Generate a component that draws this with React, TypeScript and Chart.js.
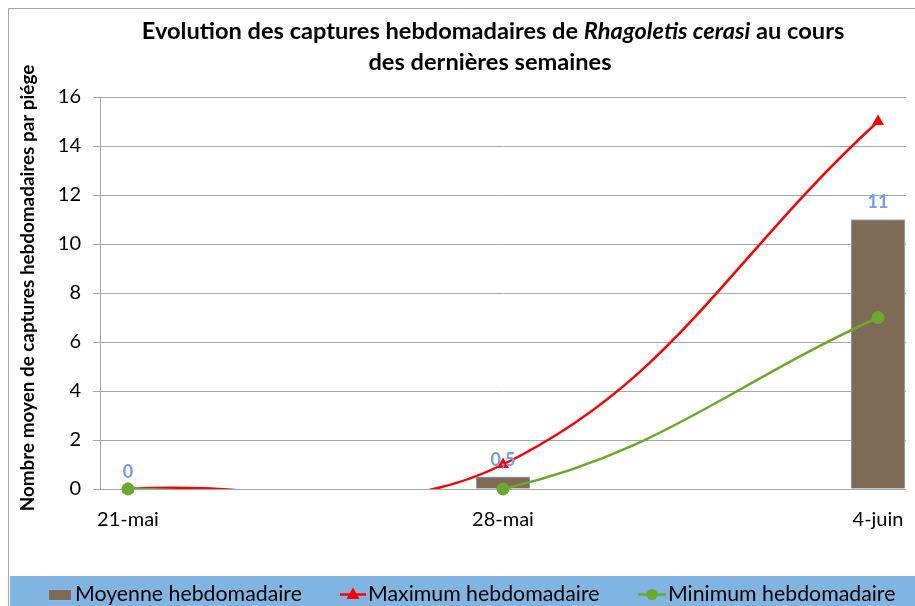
import React, { useEffect, useRef } from 'react';
import { Chart, registerables } from 'chart.js';

Chart.register(...registerables);

// ---- data ----
const categories = ['21-mai', '28-mai', '4-juin'];
const dayOffsets = [0, 7, 14];
const moyenne = [0, 0.5, 11];
const maximum = [0, 1, 15];
const minimum = [0, 0, 7];
const barLabels = ['0', '0,5', '11'];
const seriesNames = ['Moyenne hebdomadaire', 'Maximum hebdomadaire', 'Minimum hebdomadaire'];
const titleLine1 = [
  { text: 'Evolution des captures hebdomadaires de ', italic: false },
  { text: 'Rhagoletis cerasi', italic: true },
  { text: ' au cours', italic: false },
];
const titleLine2 = 'des dernières semaines';
const yAxisTitle = 'Nombre moyen de captures hebdomadaires par piége';

// ---- styles ----
const FONT = 'Lato, "Open Sans", sans-serif';
const BROWN = '#7f6a56';
const BAR_BORDER = '#8db4e3';
const RED = '#ff0000';
const GREEN = '#6aaa2a';
const LABEL_BLUE = '#6d9eeb';
const GRID = '#a6a6a6';
const BAND = '#80b5e1';

function fitSize(ctx: CanvasRenderingContext2D, text: string, weight: string, style: string, target: number) {
  ctx.font = `${style} ${weight} 100px ${FONT}`;
  const w = ctx.measureText(text).width;
  return (100 * target) / w;
}

const decorPlugin = {
  id: 'decor',
  beforeDraw(chart: any) {
    const ctx = chart.ctx as CanvasRenderingContext2D;
    ctx.save();
    ctx.fillStyle = '#ffffff';
    ctx.fillRect(0, 0, chart.width, chart.height);
    ctx.strokeStyle = GRID;
    ctx.lineWidth = 1;
    ctx.beginPath();
    ctx.moveTo(8.5, chart.height);
    ctx.lineTo(8.5, 8.5);
    ctx.lineTo(chart.width, 8.5);
    ctx.stroke();
    ctx.fillStyle = BAND;
    ctx.fillRect(10, 576, chart.width - 10, chart.height - 576);
    ctx.restore();
  },
  afterDraw(chart: any) {
    const ctx = chart.ctx as CanvasRenderingContext2D;
    ctx.save();
    ctx.fillStyle = '#000';
    ctx.textBaseline = 'middle';

    // title
    const full1 = titleLine1.map((s) => s.text).join('');
    const ts = fitSize(ctx, full1, 'bold', 'normal', 713);
    const segW = titleLine1.map((s) => {
      ctx.font = `${s.italic ? 'italic' : 'normal'} bold ${ts}px ${FONT}`;
      return ctx.measureText(s.text).width;
    });
    const tot = segW.reduce((a, b) => a + b, 0);
    let x = 493 - tot / 2;
    ctx.textAlign = 'left';
    titleLine1.forEach((s, i) => {
      ctx.font = `${s.italic ? 'italic' : 'normal'} bold ${ts}px ${FONT}`;
      ctx.fillText(s.text, x, 31);
      x += segW[i];
    });
    ctx.font = `normal bold ${ts}px ${FONT}`;
    ctx.textAlign = 'center';
    ctx.fillText(titleLine2, 490, 62);

    // y axis title
    const ys = fitSize(ctx, yAxisTitle, 'bold', 'normal', 447);
    ctx.save();
    ctx.translate(28, 288);
    ctx.rotate(-Math.PI / 2);
    ctx.font = `normal bold ${ys}px ${FONT}`;
    ctx.textAlign = 'center';
    ctx.fillText(yAxisTitle, 0, 0);
    ctx.restore();

    // bar data labels
    const meta = chart.getDatasetMeta(0);
    ctx.font = `normal bold 18px ${FONT}`;
    ctx.fillStyle = LABEL_BLUE;
    ctx.textAlign = 'center';
    meta.data.forEach((el: any, i: number) => {
      ctx.fillText(barLabels[i], el.x, el.y - 17);
    });

    // legend
    const ls = fitSize(ctx, seriesNames[0], 'normal', 'normal', 227);
    ctx.font = `normal normal ${ls}px ${FONT}`;
    ctx.textAlign = 'left';
    const ly = 594.5;
    ctx.fillStyle = BROWN;
    ctx.fillRect(48.5, 589.5, 23, 11);
    ctx.strokeStyle = BAR_BORDER;
    ctx.lineWidth = 1;
    ctx.strokeRect(48.5, 589.5, 23, 11);
    ctx.fillStyle = '#000';
    ctx.fillText(seriesNames[0], 75, ly);

    ctx.strokeStyle = RED;
    ctx.lineWidth = 2.5;
    ctx.beginPath();
    ctx.moveTo(340, ly);
    ctx.lineTo(366, ly);
    ctx.stroke();
    ctx.fillStyle = RED;
    ctx.beginPath();
    ctx.moveTo(353, ly - 7);
    ctx.lineTo(359.5, ly + 4.5);
    ctx.lineTo(346.5, ly + 4.5);
    ctx.closePath();
    ctx.fill();
    ctx.fillStyle = '#000';
    ctx.fillText(seriesNames[1], 368, ly);

    ctx.strokeStyle = GREEN;
    ctx.beginPath();
    ctx.moveTo(638, ly);
    ctx.lineTo(666, ly);
    ctx.stroke();
    ctx.fillStyle = GREEN;
    ctx.beginPath();
    ctx.arc(652, ly, 5.5, 0, Math.PI * 2);
    ctx.fill();
    ctx.fillStyle = '#000';
    ctx.fillText(seriesNames[2], 668, ly);

    ctx.restore();
  },
};

export default function App() {
  const ref = useRef<HTMLCanvasElement | null>(null);

  useEffect(() => {
    if (!ref.current) return;
    const pts = (vals: number[]) => dayOffsets.map((x, i) => ({ x, y: vals[i] }));
    const lineClip = { left: 10, right: 10, top: 10, bottom: 0 };
    const chart = new Chart(ref.current, {
      type: 'bar',
      data: {
        datasets: [
          {
            type: 'bar',
            label: seriesNames[0],
            data: pts(moyenne),
            backgroundColor: BROWN,
            borderColor: BAR_BORDER,
            borderWidth: 1,
            barThickness: 54,
            order: 5,
          } as any,
          {
            type: 'line',
            label: seriesNames[1],
            data: pts(maximum),
            borderColor: RED,
            borderWidth: 2.5,
            tension: 0.4,
            capBezierPoints: false,
            pointRadius: 0,
            clip: lineClip,
            order: 4,
          } as any,
          {
            type: 'line',
            label: seriesNames[2],
            data: pts(minimum),
            borderColor: GREEN,
            borderWidth: 2.5,
            tension: 0.4,
            capBezierPoints: false,
            pointRadius: 0,
            clip: lineClip,
            order: 3,
          } as any,
          {
            type: 'line',
            label: seriesNames[1] + ' (marqueurs)',
            data: pts(maximum),
            showLine: false,
            pointStyle: 'triangle',
            pointRadius: 7,
            pointBackgroundColor: RED,
            pointBorderColor: RED,
            pointBorderWidth: 0,
            clip: false,
            order: 2,
          } as any,
          {
            type: 'line',
            label: seriesNames[2] + ' (marqueurs)',
            data: pts(minimum),
            showLine: false,
            pointStyle: 'circle',
            pointRadius: 6.5,
            pointBackgroundColor: GREEN,
            pointBorderColor: GREEN,
            pointBorderWidth: 0,
            clip: false,
            order: 1,
          } as any,
        ],
      },
      options: {
        animation: false,
        responsive: false,
        layout: { padding: { top: 97, left: 0, right: 9, bottom: 77 } },
        plugins: {
          legend: { display: false },
          title: { display: false },
          tooltip: { enabled: false },
        },
        scales: {
          x: {
            type: 'linear',
            offset: false,
            min: -0.5227,
            max: 14.5227,
            afterBuildTicks: (s: any) => {
              s.ticks = dayOffsets.map((v) => ({ value: v }));
            },
            afterFit: (s: any) => {
              s.height = 40;
              s.paddingLeft = 0;
              s.paddingRight = 0;
            },
            ticks: {
              callback: (v: any) => categories[dayOffsets.indexOf(Number(v))],
              font: { family: FONT, size: 20 },
              color: '#000',
              maxRotation: 0,
              autoSkip: false,
              padding: 19,
            },
            grid: { display: false, drawTicks: false, offset: false },
            border: { display: false },
          },
          y: {
            min: 0,
            max: 16,
            afterFit: (s: any) => {
              s.width = 100;
            },
            ticks: {
              stepSize: 2,
              font: { family: FONT, size: 20 },
              color: '#000',
              padding: 12,
            },
            grid: { color: GRID, tickLength: 7, lineWidth: 1 },
            border: { color: GRID },
          },
        },
      } as any,
      plugins: [decorPlugin],
    });
    return () => chart.destroy();
  }, []);

  return (
    <div style={{ position: 'fixed', left: 0, top: 0, width: 915, height: 606 }}>
      <canvas ref={ref} width={915} height={606} style={{ display: 'block' }} />
    </div>
  );
}
